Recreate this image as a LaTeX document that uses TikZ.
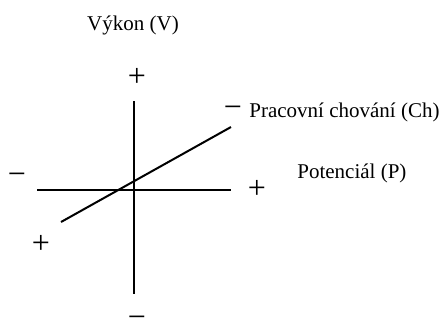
\documentclass[tikz,border=0pt]{standalone}
\usepackage{fontspec}
\setmainfont{Liberation Serif}
\begin{document}
\begin{tikzpicture}[x=0.5pt,y=-0.5pt,
  axis/.style={line width=1pt},
  lbl/.style={inner sep=0pt,font=\fontsize{10.5}{12}\selectfont},
  sgn/.style={inner sep=0pt,font=\fontsize{16}{18}\selectfont}]
\useasboundingbox (0,0) rectangle (443,329);
% axis end points
\coordinate (vt) at (134,101);
\coordinate (vb) at (134,294);
\coordinate (hl) at (37,190);
\coordinate (hr) at (231,190);
\coordinate (dl) at (61,222);
\coordinate (dr) at (231,127);
\draw[axis] (vt) -- (vb);
\draw[axis] (hl) -- (hr);
\draw[axis] (dl) -- (dr);
% labels
\node[lbl] (vykon) at (133,25) {Výkon (V)};
\node[lbl,anchor=west] (prac) at (249,112) {Pracovní chování (Ch)};
\node[lbl,anchor=west] (pot) at (297,173) {Potenciál (P)};
% signs
\node[sgn] (vplus) at (137,77) {+};
\node[sgn] (vminus) at (137,322) {−};
\node[sgn] (hminus) at (17,179) {−};
\node[sgn] (hplus) at (257,189) {+};
\node[sgn] (dplus) at (41,244) {+};
\node[sgn] (dminus) at (233,112) {−};
\end{tikzpicture}
\end{document}
